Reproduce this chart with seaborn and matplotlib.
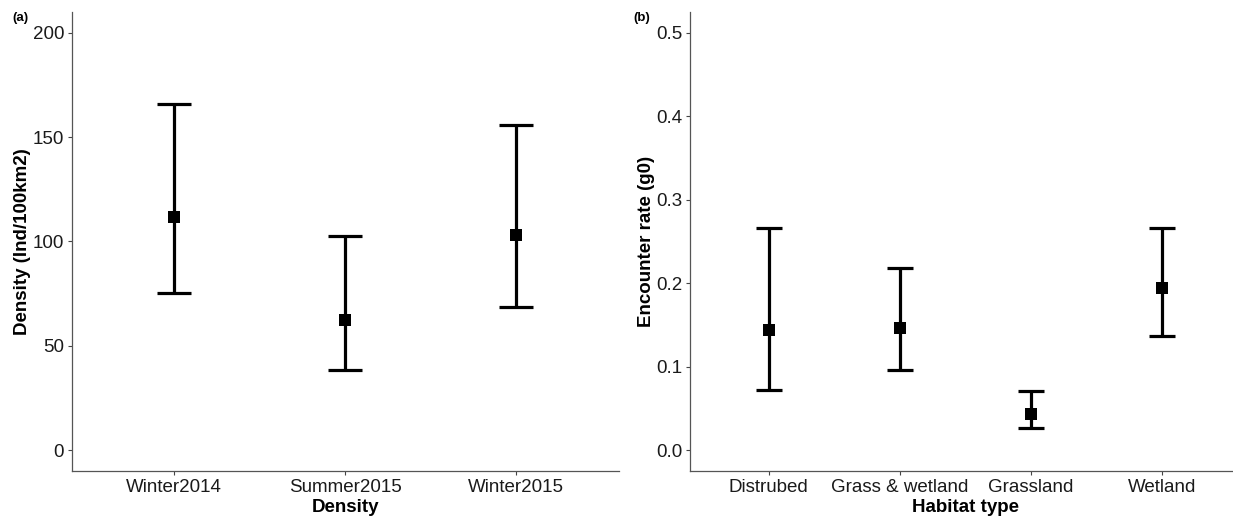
import numpy as np
import pandas as pd
import seaborn as sns
import matplotlib
matplotlib.use('Agg')
import matplotlib.pyplot as plt

# panel (a) density estimates
seasons = ['Winter2014', 'Summer2015', 'Winter2015']
dens_mean = [111.8, 62.6, 103.2]
dens_lo = [75.5, 38.3, 68.8]
dens_hi = [165.8, 102.6, 155.6]

# panel (b) encounter rate by habitat
habitats = ['Distrubed', 'Grass & wetland', 'Grassland', 'Wetland']
g0_mean = [0.144, 0.146, 0.043, 0.194]
g0_lo = [0.072, 0.096, 0.026, 0.137]
g0_hi = [0.266, 0.218, 0.071, 0.266]

sns.set_theme(style="white")
plt.rcParams['font.family'] = ['Liberation Sans', 'DejaVu Sans']

fig = plt.figure(figsize=(12.33, 5.16), dpi=100)
ax_a = fig.add_axes([71.7/1233, 45/516, 547.3/1233, 459/516])
ax_b = fig.add_axes([690/1233, 45/516, 551/1233, 459/516])


def ci_panel(ax, cats, mean, lo, hi, xlabel, ylabel):
    '''square marker for the estimate + capped error bar for the interval'''
    df = pd.DataFrame({'cat': cats, 'mean': mean, 'lo': lo, 'hi': hi})
    xs = np.arange(len(cats))
    ax.errorbar(xs, df['mean'],
                yerr=[df['mean'] - df['lo'], df['hi'] - df['mean']],
                fmt='none', ecolor='black', elinewidth=2.3,
                capsize=0, zorder=2)
    # caps drawn as short lines 0.2 category wide, like ggplot width=0.2
    ax.hlines(df['lo'], xs - 0.1, xs + 0.1, color='black', lw=2.3, zorder=2)
    ax.hlines(df['hi'], xs - 0.1, xs + 0.1, color='black', lw=2.3, zorder=2)
    sns.scatterplot(x=xs, y=df['mean'], marker='s', s=78, color='black',
                    edgecolor='black', linewidth=0, ax=ax, zorder=3)
    ax.set_xticks(xs)
    ax.set_xticklabels(cats)
    ax.set_xlim(-0.6, len(cats) - 0.4)
    ax.set_xlabel(xlabel, fontsize=13.5, fontweight='bold', labelpad=2.5,
                  color='black')
    ax.set_ylabel(ylabel, fontsize=13.5, fontweight='bold', labelpad=1,
                  color='black')
    ax.tick_params(axis='both', labelsize=13.5, length=3, width=0.8,
                   color='#444444', labelcolor='#1a1a1a', pad=2.5,
                   direction='out', bottom=True, left=True)
    for side in ['top', 'right']:
        ax.spines[side].set_visible(False)
    for side in ['left', 'bottom']:
        ax.spines[side].set_color('#555555')
        ax.spines[side].set_linewidth(0.9)


ci_panel(ax_a, seasons, dens_mean, dens_lo, dens_hi,
         'Density', 'Density (Ind/100km2)')
ax_a.set_ylim(-10, 210)
ax_a.set_yticks([0, 50, 100, 150, 200])

ci_panel(ax_b, habitats, g0_mean, g0_lo, g0_hi,
         'Habitat type', 'Encounter rate (g0)')
ax_b.set_ylim(-0.025, 0.525)
ax_b.set_yticks([0.0, 0.1, 0.2, 0.3, 0.4, 0.5])
ax_b.set_yticklabels(['0.0', '0.1', '0.2', '0.3', '0.4', '0.5'])

fig.text(12/1233, 1 - 18/516, '(a)', fontsize=9.5, fontweight='bold',
         va='center', color='black')
fig.text(633/1233, 1 - 18/516, '(b)', fontsize=9.5, fontweight='bold',
         va='center', color='black')

fig.savefig('out.png', dpi=100, facecolor='white')
